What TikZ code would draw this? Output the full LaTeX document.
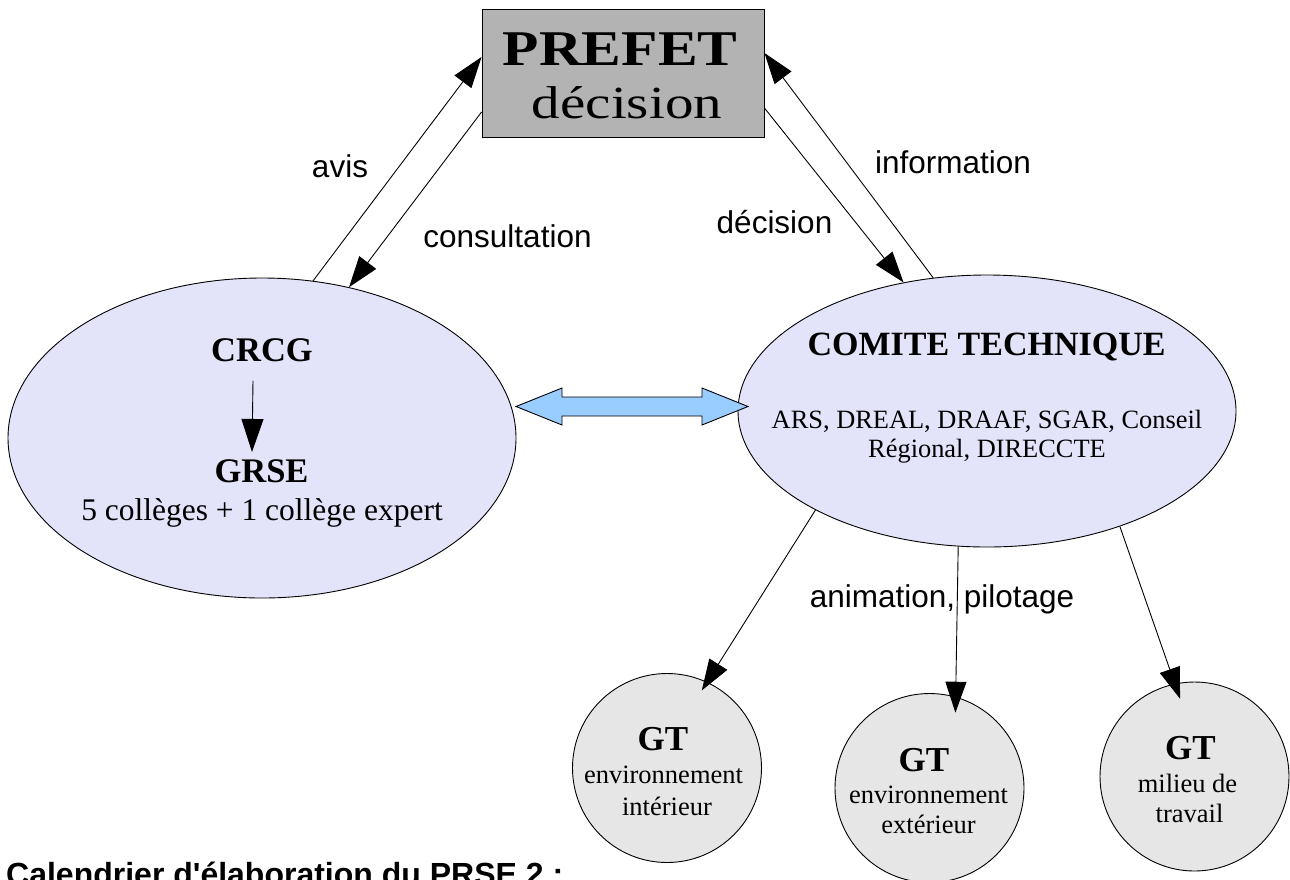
\documentclass[tikz,border=0pt]{standalone}
\usepackage{fontspec}
\setmainfont{Liberation Serif}
\newfontfamily\lsans{Liberation Sans}
\usetikzlibrary{arrows.meta,shapes.geometric}
\definecolor{ellfill}{RGB}{227,227,250}
\definecolor{gtfill}{RGB}{230,230,230}
\definecolor{prefill}{RGB}{179,179,179}
\definecolor{dblue}{RGB}{153,204,255}
\begin{document}
\begin{tikzpicture}[x=1pt,y=-1pt,
  conn/.style={line width=0.9pt,-{Triangle[length=31pt,width=21pt]}},
  bigell/.style={ellipse,draw,line width=0.9pt,fill=ellfill,inner sep=0pt},
  gtcirc/.style={circle,draw,line width=0.9pt,fill=gtfill,minimum size=189pt,inner sep=0pt},
  lab/.style={font=\lsans\fontsize{31.5}{36}\selectfont,anchor=base,inner sep=0pt},
  ttl/.style={font=\bfseries\fontsize{34.5}{40}\selectfont,anchor=base,inner sep=0pt},
  gttl/.style={font=\bfseries\fontsize{35}{40}\selectfont,anchor=base,inner sep=0pt},
  gtxt/.style={font=\fontsize{26.5}{30}\selectfont,anchor=base,inner sep=0pt},
  txt/.style={font=\fontsize{26.4}{30}\selectfont,anchor=base,inner sep=0pt}]
\useasboundingbox (0,0) rectangle (1290,879);

% PREFET box
\node[draw,line width=0.9pt,fill=prefill,minimum width=282pt,minimum height=128pt,inner sep=0pt] (prefet) at (623,73) {};
\node[font=\bfseries\fontsize{50}{56}\selectfont,anchor=base,inner sep=0pt] (prefett) at (620,65) {\scalebox{1.19}[1]{PREFET}};
\node[font=\fontsize{46}{52}\selectfont,anchor=base,inner sep=0pt] (prefetd) at (627,118) {\scalebox{1.24}[1]{décision}};

% left ellipse
\node[bigell,minimum width=508pt,minimum height=320pt] (crcg) at (262,438) {};
\node[ttl] (crcgt) at (262,361) {CRCG};
\node[ttl] (grset) at (261.5,482) {GRSE};
\node[font=\fontsize{31.5}{36}\selectfont,anchor=base,inner sep=0pt] (coll) at (262,520) {5 collèges + 1 collège expert};
\draw[line width=0.9pt,-{Triangle[length=33pt,width=22pt]}] ([xshift=-9pt,yshift=-19pt]crcgt.south) -- ([xshift=-9.5pt,yshift=7pt]grset.north);

% right ellipse
\node[bigell,minimum width=498pt,minimum height=272pt] (comite) at (987,411) {};
\node[font=\bfseries\fontsize{34}{40}\selectfont,anchor=base,inner sep=0pt] (comitet) at (986.5,355) {COMITE TECHNIQUE};
\node[txt] (ars) at (987,428) {ARS, DREAL, DRAAF, SGAR, Conseil};
\node[txt] (reg) at (987,457) {Régional, DIRECCTE};

% double block arrow
\filldraw[fill=dblue,line width=0.9pt,line join=miter]
  (516,406.5) -- (562,388) -- (562,397) -- (702,397) -- (702,388) -- (748,406.5)
  -- (702,425) -- (702,416) -- (562,416) -- (562,425) -- cycle;

% GT circles
\node[gtcirc] (gt1) at (667,768) {};
\node[gtcirc] (gt2) at (929.5,788) {};
\node[gtcirc] (gt3) at (1194.5,776.5) {};
\node[gttl] (gt1t) at (663,750) {GT};
\node[gtxt] (gt1a) at (663.5,783) {environnement};
\node[gtxt] (gt1b) at (667,815) {intérieur};
\node[gttl] (gt2t) at (924,771) {GT};
\node[gtxt] (gt2a) at (928.5,803) {environnement};
\node[gtxt] (gt2b) at (928.5,833) {extérieur};
\node[gttl] (gt3t) at (1190.5,759) {GT};
\node[gtxt] (gt3a) at (1187.5,792) {milieu de};
\node[gtxt] (gt3b) at (1189.5,822) {travail};

% connectors to/from PREFET
\draw[conn] (crcg.72.5) -- ([yshift=16pt]prefet.west);
\draw[conn] ([yshift=-39pt]prefet.west) -- (crcg.60.2);
\draw[conn] (comite.112) -- ([yshift=20pt]prefet.east);
\draw[conn] ([yshift=-35pt]prefet.east) -- (comite.123);

% connectors to GT
\draw[conn,shorten >=-10pt] (comite.210.5) -- (gt1.65.6);
\draw[conn,shorten >=-16pt] (comite.258.4) -- (gt2.74.8);
\draw[conn,shorten >=-16pt] (comite.319.5) -- (gt3.102);

% labels
\node[lab] (lavis) at (340,177) {avis};
\node[lab] (lcons) at (507.5,247) {consultation};
\node[lab] (linfo) at (953,173) {information};
\node[lab] (ldec) at (774.5,233) {décision};
\node[lab] (lanim) at (942,607) {animation, pilotage};

% bottom heading (cut off by the page edge)
\node[font=\lsans\bfseries\fontsize{32}{38}\selectfont,anchor=base west,inner sep=0pt] (cal) at (6,885) {Calendrier d\symbol{39}élaboration du PRSE 2 :};
\end{tikzpicture}
\end{document}
